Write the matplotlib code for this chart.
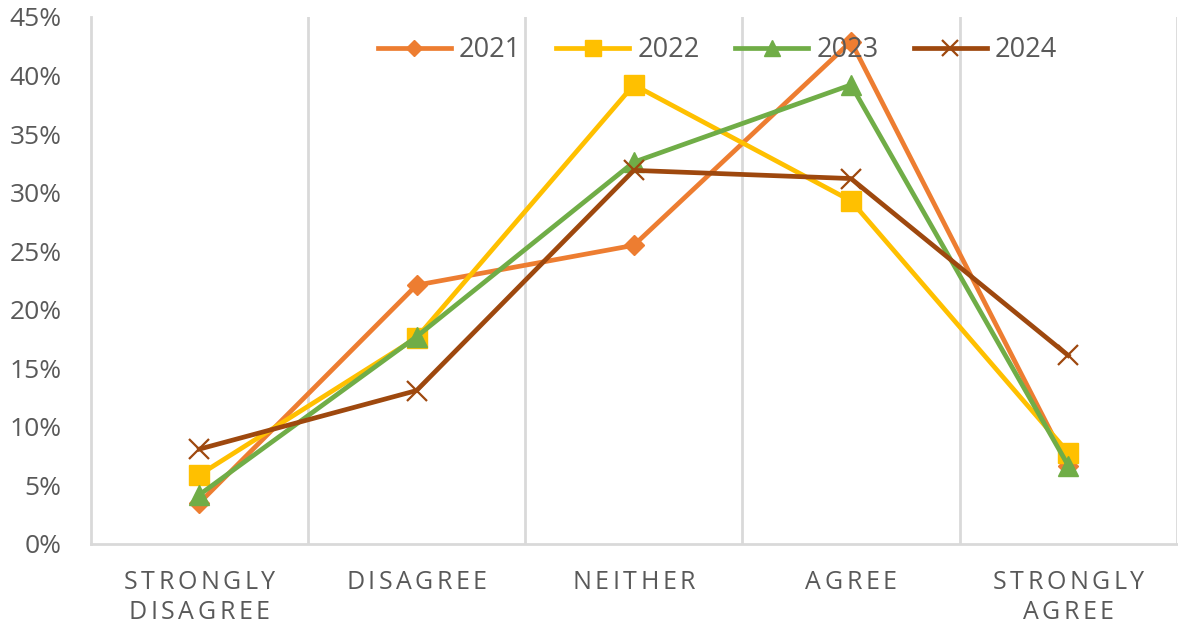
import numpy as np
import matplotlib
matplotlib.use("Agg")
from matplotlib import pyplot as plt
from matplotlib.ticker import PercentFormatter

categories = ["STRONGLY\nDISAGREE", "DISAGREE", "NEITHER", "AGREE", "STRONGLY\nAGREE"]
y2021 = [3.5, 22.1, 25.5, 42.9, 6.7]
y2022 = [5.9, 17.6, 39.2, 29.3, 7.8]
y2023 = [4.2, 17.7, 32.6, 39.2, 6.7]
y2024 = [8.1, 13.1, 31.9, 31.2, 16.1]

plt.rcParams['font.family'] = ['Open Sans', 'DejaVu Sans']
GREY = "#595959"

fig = plt.figure(figsize=(11.78, 6.27), dpi=100)
ax = fig.add_axes([0.077, 0.1324, 0.922, 0.8406])

x = np.arange(len(categories))
ax.plot(x, y2021, color="#ED7D31", lw=3.4, marker="D", ms=10, label="2021", zorder=3)
ax.plot(x, y2022, color="#FFC000", lw=3.4, marker="s", ms=15, label="2022", zorder=3)
ax.plot(x, y2023, color="#70AD47", lw=3.4, marker="^", ms=14, label="2023", zorder=3)
ax.plot(x, y2024, color="#9E480E", lw=3.4, marker="x", ms=14, mew=1.6, label="2024", zorder=4)

ax.set_xlim(-0.5, 4.5)
ax.set_ylim(0, 45)
ax.set_yticks(np.arange(0, 46, 5))
ax.yaxis.set_major_formatter(PercentFormatter(decimals=0))
ax.tick_params(axis="y", labelsize=19, labelcolor=GREY, length=0, pad=21)
ax.set_xticks(x)
ax.tick_params(axis="x", length=0, labelbottom=False)
ax.set_xticks(np.arange(0.5, 4.6, 1), minor=True)
ax.tick_params(axis="x", which="minor", length=0)
ax.grid(True, which="minor", axis="x", color="#D9D9D9", lw=2)

for s in ["top", "right"]:
    ax.spines[s].set_visible(False)
for s in ["left", "bottom"]:
    ax.spines[s].set_color("#D9D9D9")
    ax.spines[s].set_linewidth(2)


# category labels with letter spacing, like the original
def spaced_text(xc, text, size, track, baseline):
    renderer = fig.canvas.get_renderer()
    widths = []
    for ch in text:
        t = ax.text(0, 0, ch, fontsize=size)
        widths.append(t.get_window_extent(renderer).width)
        t.remove()
    total = sum(widths) + track * (len(text) - 1)
    pos = -total / 2
    for ch, w in zip(text, widths):
        ax.annotate(ch, xy=(xc, 0), xycoords=ax.get_xaxis_transform(),
                    xytext=(pos * 0.72, -baseline * 0.72), textcoords="offset points",
                    ha="left", va="baseline", fontsize=size, color=GREY,
                    annotation_clip=False)
        pos += w + track


for xi, lab in zip(x, categories):
    for j, line in enumerate(lab.split("\n")):
        spaced_text(xi, line, 18, 3.5, 45 + 30 * j)

leg = ax.legend(loc="center", bbox_to_anchor=(0.577, 0.937), ncol=4, frameon=False,
                fontsize=19.5, handlelength=2.7, columnspacing=1.3, handletextpad=0.3,
                markerscale=0.8)
for t in leg.get_texts():
    t.set_color(GREY)

fig.savefig("out.png", dpi=100)
